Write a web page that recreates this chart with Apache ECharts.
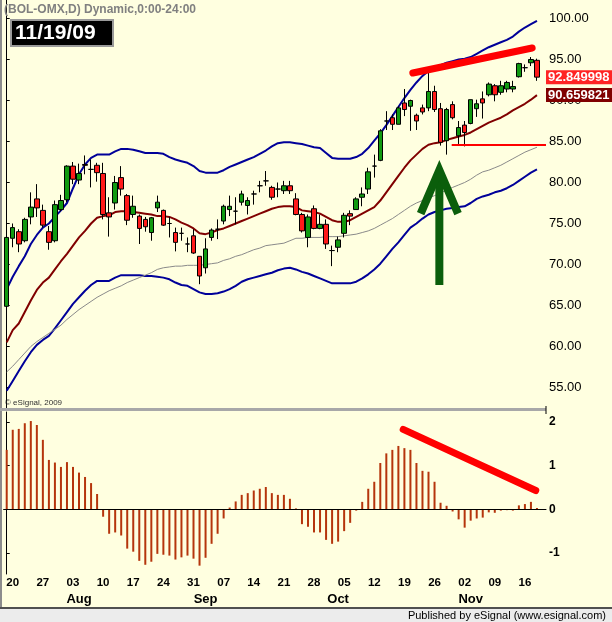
<!DOCTYPE html>
<html>
<head>
<meta charset="utf-8">
<script src="https://cdn.jsdelivr.net/npm/echarts@6/dist/echarts.min.js"></script>
<style>
html, body { margin: 0; padding: 0; background: #ffffe0; }
#chart { width: 612px; height: 622px; }
</style>
</head>
<body>
<div id="chart"></div>
<script>
// trading days shown (last category is the empty right margin)
const dates = [
  '07-17',
  '07-20', '07-21', '07-22', '07-23', '07-24',
  '07-27', '07-28', '07-29', '07-30', '07-31',
  '08-03', '08-04', '08-05', '08-06', '08-07',
  '08-10', '08-11', '08-12', '08-13', '08-14',
  '08-17', '08-18', '08-19', '08-20', '08-21',
  '08-24', '08-25', '08-26', '08-27', '08-28',
  '08-31', '09-01', '09-02', '09-03', '09-04',
  '09-07', '09-08', '09-09', '09-10', '09-11',
  '09-14', '09-15', '09-16', '09-17', '09-18',
  '09-21', '09-22', '09-23', '09-24', '09-25',
  '09-28', '09-29', '09-30', '10-01', '10-02',
  '10-05', '10-06', '10-07', '10-08', '10-09',
  '10-12', '10-13', '10-14', '10-15', '10-16',
  '10-19', '10-20', '10-21', '10-22', '10-23',
  '10-26', '10-27', '10-28', '10-29', '10-30',
  '11-02', '11-03', '11-04', '11-05', '11-06',
  '11-09', '11-10', '11-11', '11-12', '11-13',
  '11-16', '11-17', '11-18', ''
]
const mondays = ['07-20', '07-27', '08-03', '08-10', '08-17', '08-24', '08-31', '09-07', '09-14',
  '09-21', '09-28', '10-05', '10-12', '10-19', '10-26', '11-02', '11-09', '11-16']
const monthLabels = { '08-04': 'Aug', '09-02': 'Sep', '10-02': 'Oct', '11-03': 'Nov' }
const priceTicks = [55, 60, 65, 70, 75, 80, 85, 90, 95, 100]
const macdTicks = [-1, 0, 1, 2]

// [open, close, low, high]
const ohlc = [
  [64.9, 73.3, 63.7, 73.3], [73.2, 74.5, 72.1, 75.0], [74.0, 72.5, 71.5, 74.3], [72.9, 75.5, 72.7, 75.7],
  [75.8, 77.0, 74.9, 78.8], [78.0, 76.9, 75.8, 79.8], [76.6, 74.8, 74.5, 77.3], [74.0, 72.7, 71.8, 74.7],
  [72.9, 77.3, 72.7, 77.8], [76.7, 77.8, 76.5, 78.5], [77.9, 82.0, 77.6, 82.1], [82.0, 80.4, 79.8, 82.5],
  [80.3, 81.1, 79.8, 82.3], [82.2, 82.1, 81.0, 83.3], [81.6, 81.6, 79.4, 82.8], [82.1, 81.2, 80.1, 82.4],
  [81.1, 76.1, 75.5, 82.4], [76.3, 75.8, 73.4, 78.2], [77.5, 80.0, 76.7, 80.8], [80.6, 79.2, 78.4, 82.0],
  [78.4, 75.4, 74.8, 78.6], [76.1, 77.1, 75.7, 78.4], [75.9, 74.4, 72.5, 76.1], [75.5, 74.6, 74.0, 75.8],
  [73.9, 75.7, 72.9, 75.8], [76.9, 77.6, 76.4, 78.4], [76.6, 74.8, 74.7, 76.7], [75.0, 75.0, 73.3, 75.8],
  [73.9, 72.7, 71.6, 74.5], [73.8, 73.8, 72.9, 74.5], [72.5, 72.5, 71.5, 73.3], [73.5, 71.4, 71.3, 74.3],
  [71.0, 68.6, 67.6, 71.0], [69.6, 71.9, 68.9, 73.2], [73.3, 74.2, 72.9, 74.4], [74.3, 74.3, 73.1, 75.5],
  [75.3, 77.1, 74.9, 77.3], [76.7, 77.1, 75.9, 78.4], [76.5, 76.5, 74.9, 78.2], [77.6, 78.6, 77.2, 79.0],
  [77.2, 77.8, 76.1, 78.2], [78.6, 78.6, 77.3, 79.0], [79.6, 79.6, 78.8, 80.2], [80.2, 80.2, 79.6, 81.4],
  [79.4, 78.2, 77.9, 79.6], [79.2, 79.2, 78.2, 80.0], [79.0, 79.6, 78.6, 80.2], [79.6, 79.0, 78.6, 80.2],
  [78.0, 76.1, 76.0, 78.7], [76.1, 74.1, 73.9, 76.3], [73.3, 75.8, 72.1, 76.1], [76.8, 74.4, 74.3, 77.2],
  [74.4, 74.9, 74.3, 76.1], [74.9, 72.5, 71.9, 75.5], [71.7, 71.7, 69.8, 72.3], [72.1, 73.0, 71.5, 73.4],
  [73.8, 76.0, 73.3, 76.3], [76.2, 75.9, 74.8, 76.6], [76.7, 78.0, 76.7, 78.2], [78.2, 78.6, 77.1, 79.4],
  [79.2, 81.3, 78.6, 81.8], [82.0, 82.0, 80.6, 83.4], [82.7, 86.3, 82.6, 86.5], [87.5, 87.5, 86.4, 88.7],
  [87.9, 87.1, 86.4, 88.3], [87.1, 89.1, 87.1, 89.3], [89.7, 88.9, 88.1, 91.4], [89.3, 90.0, 86.3, 90.1],
  [88.2, 87.5, 86.4, 88.4], [89.1, 88.6, 88.3, 89.5], [89.1, 91.1, 88.7, 93.4], [91.1, 88.9, 88.6, 91.8],
  [89.0, 84.9, 84.5, 89.7], [85.1, 88.9, 83.4, 89.1], [89.5, 87.9, 87.7, 89.9], [85.7, 86.7, 84.7, 87.5],
  [87.0, 86.1, 84.4, 87.5], [87.2, 90.1, 87.1, 90.1], [89.0, 89.6, 88.0, 90.1], [90.2, 89.7, 87.8, 91.1],
  [90.7, 92.0, 90.5, 92.2], [91.8, 90.7, 89.9, 92.0], [91.0, 91.8, 90.7, 92.4], [91.4, 92.2, 91.0, 92.4],
  [91.4, 91.7, 91.0, 92.4], [92.9, 94.5, 92.8, 94.6], [94.0, 94.0, 93.5, 94.4], [94.6, 95.0, 94.2, 95.3],
  [94.9, 92.849998, 92.4, 95.1]
]

const upperBand = [
  67.0, 68.5, 69.8, 71.0, 72.5, 73.6, 74.5, 75.0, 75.8, 76.6,
  77.5, 79.3, 81.0, 82.2, 83.0, 83.4, 83.4, 83.4, 83.8, 84.1,
  84.1, 84.0, 83.8, 83.6, 83.6, 83.6, 83.5, 83.1, 82.8, 82.6,
  82.4, 82.0, 81.4, 81.2, 81.2, 81.2, 81.5, 81.9, 82.2, 82.5,
  82.8, 83.1, 83.5, 83.9, 84.4, 84.8, 84.9, 84.9, 84.8, 84.7,
  84.5, 84.3, 84.2, 83.6, 83.0, 82.9, 82.9, 82.9, 83.1, 83.5,
  84.2, 85.1, 86.0, 87.0, 88.1, 89.2, 90.3, 91.3, 92.2, 93.0,
  93.6, 94.0, 94.3, 94.6, 94.8, 95.0, 95.1, 95.3, 95.7, 96.1,
  96.5, 96.8, 97.1, 97.4, 97.8, 98.4, 98.9, 99.3, 99.7
]
const lowerBand = [
  54.6, 55.8, 57.0, 58.2, 59.3, 60.2, 60.8, 61.3, 62.2, 63.2,
  64.2, 65.2, 66.0, 66.8, 67.5, 68.0, 68.0, 68.0, 68.4, 68.7,
  68.7, 68.7, 68.7, 68.6, 68.6, 68.5, 68.4, 68.2, 67.8, 67.5,
  67.4, 67.0, 66.6, 66.4, 66.4, 66.5, 66.7, 67.0, 67.4, 67.9,
  68.2, 68.4, 68.6, 68.8, 69.0, 69.3, 69.5, 69.6, 69.4, 69.1,
  68.9, 68.6, 68.3, 68.0, 67.7, 67.7, 67.7, 67.7, 67.9, 68.3,
  68.8, 69.4, 70.1, 71.0, 71.9, 72.7, 73.6, 74.5, 75.0, 75.6,
  76.1, 76.4, 76.6, 76.8, 76.9, 77.0, 77.1, 77.5, 78.0, 78.3,
  78.5, 78.8, 79.0, 79.3, 79.7, 80.2, 80.7, 81.2, 81.6
]
const midAverage = [
  60.5, 62.0, 62.8, 64.2, 65.6, 66.9, 67.8, 68.4, 69.4, 70.4,
  71.3, 72.3, 73.3, 74.1, 75.0, 75.7, 75.9, 76.0, 76.4, 76.5,
  76.5, 76.4, 76.3, 76.2, 76.1, 75.9, 75.9, 75.8, 75.5, 75.1,
  74.8, 74.4, 73.8, 73.7, 73.9, 74.2, 74.4, 74.7, 75.0, 75.3,
  75.6, 75.9, 76.2, 76.5, 76.8, 77.0, 77.1, 77.1, 77.0, 76.6,
  76.5, 76.4, 76.2, 75.8, 75.4, 75.2, 75.2, 75.4, 75.8, 76.2,
  76.6, 77.0, 77.8, 78.8, 79.8, 80.8, 81.8, 82.7, 83.4, 84.1,
  84.6, 84.8, 84.9, 85.2, 85.4, 85.6, 85.8, 86.1, 86.5, 86.9,
  87.3, 87.6, 87.9, 88.3, 88.8, 89.2, 89.6, 90.1, 90.659821
]
const longAverage = [
  56.9, 57.6, 58.4, 59.2, 60.0, 60.6, 61.1, 61.6, 62.1, 62.6,
  63.3, 63.9, 64.5, 65.0, 65.5, 66.0, 66.4, 66.8, 67.1, 67.4,
  67.8, 68.1, 68.4, 68.7, 69.0, 69.4, 69.6, 69.7, 69.8, 69.8,
  69.9, 69.9, 69.9, 70.0, 70.1, 70.2, 70.5, 70.7, 71.0, 71.2,
  71.5, 71.8, 72.0, 72.3, 72.4, 72.5, 72.6, 72.9, 73.2, 73.2,
  73.3, 73.3, 73.3, 73.4, 73.4, 73.4, 73.5, 73.6, 73.7, 73.9,
  74.1, 74.4, 74.8, 75.2, 75.6, 76.1, 76.6, 77.1, 77.5, 77.8,
  78.1, 78.4, 78.7, 79.1, 79.4, 79.7, 80.0, 80.4, 80.9, 81.3,
  81.5, 81.8, 82.1, 82.5, 82.9, 83.3, 83.7, 84.0, 84.3
]
const macdHist = [
  1.36, 1.82, 1.84, 1.97, 2.02, 1.93, 1.59, 1.13, 1.07, 0.97,
  1.08, 0.97, 0.84, 0.74, 0.60, 0.35, -0.17, -0.56, -0.53, -0.60,
  -0.90, -0.97, -1.18, -1.27, -1.20, -1.02, -1.04, -1.06, -1.15, -1.10,
  -1.06, -1.13, -1.29, -1.11, -0.79, -0.56, -0.21, 0.04, 0.18, 0.33,
  0.37, 0.43, 0.47, 0.51, 0.37, 0.33, 0.33, 0.24, 0.02, -0.34,
  -0.40, -0.53, -0.53, -0.70, -0.79, -0.74, -0.50, -0.31, -0.03, 0.17,
  0.47, 0.63, 1.06, 1.28, 1.36, 1.45, 1.40, 1.36, 1.06, 0.88,
  0.86, 0.63, 0.15, 0.08, -0.05, -0.23, -0.42, -0.26, -0.21, -0.19,
  -0.07, -0.08, -0.03, -0.02, -0.03, 0.09, 0.12, 0.17, 0.03
]

// hand drawn annotations, in [bar index, value]
const priceTrend = [[67.4, 93.35], [87.2, 96.4]]
const supportLine = [[73.85, 84.57], [89.5, 84.57]]
const arrowShaft = [[71.8, 67.5], [71.8, 81.3]]
const arrowHead = [[68.7, 76.2], [71.8, 81.5], [74.9, 76.2]]
const macdTrend = [[65.8, 1.83], [87.8, 0.43]]

const FONT = 'Liberation Sans'
const chart = echarts.init(document.getElementById('chart'))

function annotation (data, xIdx, yIdx, color, width, cap) {
  return {
    type: 'line',
    xAxisIndex: xIdx,
    yAxisIndex: yIdx,
    data: data,
    showSymbol: false,
    silent: true,
    z: 10,
    lineStyle: { color: color, width: width, cap: cap, join: 'miter' }
  }
}

const option = {
  animation: false,
  backgroundColor: '#ffffe0',
  grid: [
    { left: 3.7, right: 66, top: 0, height: 408 },
    { left: 3.7, right: 66, top: 412, height: 162 }
  ],
  xAxis: [
    { type: 'category', gridIndex: 0, data: dates, axisLine: { show: false }, axisTick: { show: false }, axisLabel: { show: false } },
    { type: 'value', gridIndex: 0, min: -0.5, max: 89.5, show: false },
    {
      type: 'category',
      gridIndex: 1,
      data: dates,
      axisLine: { lineStyle: { color: '#000', width: 1 } },
      axisTick: { show: false },
      axisLabel: {
        interval: (i, v) => mondays.includes(v),
        formatter: v => (mondays.includes(v) ? v.slice(3) : ''),
        hideOverlap: false,
        margin: 3,
        color: '#000',
        fontFamily: FONT,
        fontWeight: 'bold',
        fontSize: 11.5
      }
    },
    {
      type: 'category',
      gridIndex: 1,
      data: dates,
      position: 'bottom',
      offset: 16,
      axisLine: { show: false },
      axisTick: { show: false },
      axisLabel: {
        interval: (i, v) => v in monthLabels,
        formatter: v => monthLabels[v] || '',
        hideOverlap: false,
        margin: 3,
        color: '#000',
        fontFamily: FONT,
        fontWeight: 'bold',
        fontSize: 13
      }
    },
    { type: 'value', gridIndex: 1, min: -0.5, max: 89.5, show: false }
  ],
  yAxis: [
    {
      type: 'value',
      gridIndex: 0,
      position: 'right',
      min: 52.5,
      max: 102.256,
      splitLine: { show: false },
      axisLine: { show: true, lineStyle: { color: '#000' } },
      axisTick: { show: true, length: 3, customValues: priceTicks, lineStyle: { color: '#000' } },
      axisLabel: {
        customValues: priceTicks,
        formatter: v => v.toFixed(2),
        margin: 3,
        color: '#000',
        fontFamily: FONT,
        fontSize: 13
      }
    },
    {
      type: 'value',
      gridIndex: 1,
      position: 'right',
      min: -1.481,
      max: 2.227,
      splitLine: { show: false },
      axisLine: { show: true, lineStyle: { color: '#000' } },
      axisTick: { show: true, length: 3, customValues: macdTicks, lineStyle: { color: '#000' } },
      axisLabel: {
        customValues: macdTicks,
        formatter: v => String(v),
        margin: 3,
        color: '#000',
        fontFamily: FONT,
        fontWeight: 'bold',
        fontSize: 12
      }
    }
  ],
  series: [
    { type: 'line', xAxisIndex: 0, yAxisIndex: 0, data: upperBand, showSymbol: false, silent: true, lineStyle: { color: '#000099', width: 2 } },
    { type: 'line', xAxisIndex: 0, yAxisIndex: 0, data: lowerBand, showSymbol: false, silent: true, lineStyle: { color: '#000099', width: 2 } },
    { type: 'line', xAxisIndex: 0, yAxisIndex: 0, data: midAverage, showSymbol: false, silent: true, lineStyle: { color: '#800000', width: 2 } },
    { type: 'line', xAxisIndex: 0, yAxisIndex: 0, data: longAverage, showSymbol: false, silent: true, lineStyle: { color: '#8a8a8a', width: 1 } },
    {
      type: 'candlestick',
      xAxisIndex: 0,
      yAxisIndex: 0,
      data: ohlc,
      barWidth: 5,
      z: 5,
      silent: true,
      itemStyle: { color: '#109a10', color0: '#ff1a1a', borderColor: '#000', borderColor0: '#000', borderWidth: 1 }
    },
    annotation(priceTrend, 1, 0, '#ff0000', 7, 'round'),
    annotation(supportLine, 1, 0, '#ff0000', 2, 'butt'),
    annotation(arrowShaft, 1, 0, '#0b5e0b', 8, 'butt'),
    annotation(arrowHead, 1, 0, '#0b5e0b', 8, 'butt'),
    {
      type: 'bar',
      xAxisIndex: 2,
      yAxisIndex: 1,
      data: macdHist,
      barWidth: 2,
      silent: true,
      itemStyle: { color: '#b5350c' },
      markLine: {
        symbol: 'none',
        silent: true,
        label: { show: false },
        lineStyle: { color: '#000', width: 1, type: 'solid' },
        data: [{ yAxis: 0 }]
      }
    },
    annotation(macdTrend, 4, 1, '#ff0000', 7, 'round')
  ]
}
chart.setOption(option)

const lastClose = ohlc[ohlc.length - 1][1]
const lastMid = midAverage[midAverage.length - 1]
const yClose = chart.convertToPixel({ yAxisIndex: 0 }, lastClose)
const yMid = chart.convertToPixel({ yAxisIndex: 0 }, lastMid)

chart.setOption({
  graphic: [
    { type: 'rect', silent: true, z: 100, shape: { x: 0, y: 0, width: 2, height: 607 }, style: { fill: '#8c8c8c' } },
    { type: 'rect', silent: true, z: 100, shape: { x: 0, y: 408, width: 546, height: 3 }, style: { fill: '#a8a8a8' } },
    { type: 'rect', silent: true, z: 100, shape: { x: 545.5, y: 406, width: 1, height: 8 }, style: { fill: '#000' } },
    { type: 'rect', silent: true, z: 100, shape: { x: 0, y: 607, width: 612, height: 2 }, style: { fill: '#505050' } },
    { type: 'rect', silent: true, z: 100, shape: { x: 0, y: 609, width: 612, height: 13 }, style: { fill: '#ececec' } },
    { type: 'text', silent: true, z: 101, x: 606, y: 616, style: { text: 'Published by eSignal (www.esignal.com)', fill: '#000', font: '11px "' + FONT + '"', align: 'right', verticalAlign: 'middle' } },
    { type: 'text', silent: true, z: 101, x: 4, y: 10, style: { text: '(BOL-OMX,D) Dynamic,0:00-24:00', fill: '#808080', font: 'bold 12px "' + FONT + '"', verticalAlign: 'middle' } },
    { type: 'rect', silent: true, z: 101, shape: { x: 11, y: 20, width: 102, height: 26 }, style: { fill: '#000', stroke: '#9a9a9a', lineWidth: 2 } },
    { type: 'text', silent: true, z: 102, x: 15, y: 33.5, style: { text: '11/19/09', fill: '#fff', font: 'bold 21px "' + FONT + '"', verticalAlign: 'middle' } },
    { type: 'text', silent: true, z: 101, x: 5, y: 403, style: { text: '\u00a9 eSignal, 2009', fill: '#303030', font: '8px "' + FONT + '"', verticalAlign: 'middle' } },
    { type: 'rect', silent: true, z: 101, shape: { x: 546, y: yMid - 7, width: 66, height: 14 }, style: { fill: '#800000' } },
    { type: 'text', silent: true, z: 102, x: 548, y: yMid, style: { text: lastMid.toFixed(6), fill: '#fff', font: 'bold 13px "' + FONT + '"', verticalAlign: 'middle' } },
    { type: 'rect', silent: true, z: 101, shape: { x: 546, y: yClose - 7, width: 66, height: 14 }, style: { fill: '#ff2424' } },
    { type: 'text', silent: true, z: 102, x: 548, y: yClose, style: { text: lastClose.toFixed(6), fill: '#fff', font: 'bold 13px "' + FONT + '"', verticalAlign: 'middle' } }
  ]
})
</script>
</body>
</html>
